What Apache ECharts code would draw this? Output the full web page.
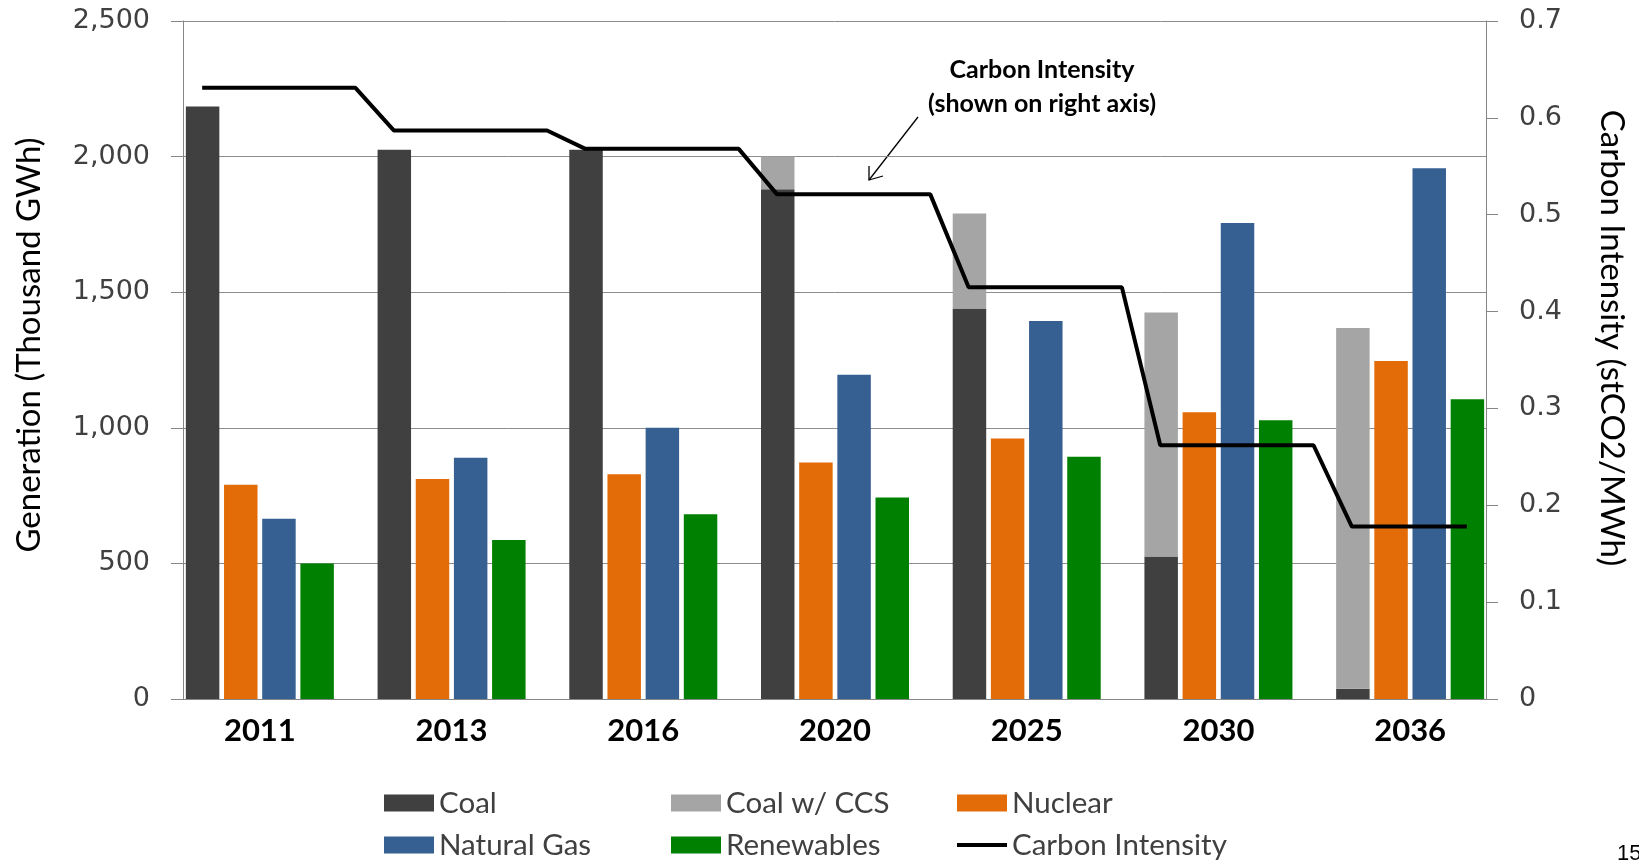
<!DOCTYPE html>
<html><head><meta charset="utf-8">
<script src="https://cdn.jsdelivr.net/npm/echarts@6/dist/echarts.min.js"></script>
<style>html,body{margin:0;padding:0;background:#fff}#c{width:1639px;height:861px}</style>
</head><body><div id="c"></div>
<script>
// ---- data ----
const years = ['2011', '2013', '2016', '2020', '2025', '2030', '2036'];
const coal = [2185, 2025, 2025, 1880, 1440, 525, 38];
const coalCCS = [0, 0, 0, 120, 350, 900, 1330];
const nuclear = [790, 811, 829, 872, 961, 1057, 1246];
const naturalGas = [665, 890, 1000, 1196, 1394, 1755, 1957];
const renewables = [500, 586, 681, 743, 893, 1028, 1105];
const carbonIntensity = [0.631, 0.587, 0.568, 0.521, 0.425, 0.262, 0.178];
// the intensity line sits on a secondary category axis with several points per year
const pointsPerYear = [5, 5, 5, 5, 5, 5, 4];
const leftTicks = [0, 500, 1000, 1500, 2000, 2500];
const rightTicks = [0, 0.1, 0.2, 0.3, 0.4, 0.5, 0.6, 0.7];

const ciCats = [], ciData = [];
years.forEach((y, i) => {
  for (let k = 0; k < pointsPerYear[i]; k++) { ciCats.push(y + '-' + k); ciData.push(carbonIntensity[i]); }
});

const C = { coal: '#404040', ccs: '#a5a5a5', nuc: '#e36c09', gas: '#376092', ren: '#008000' };
const axisGray = '#868686';
const chart = echarts.init(document.getElementById('c'), null, { renderer: 'canvas' });

// legend layout: 3 columns x 2 rows
const legendCells = [
  { name: 'Coal', col: 0, row: 0 }, { name: 'Coal w/ CCS', col: 1, row: 0 }, { name: 'Nuclear', col: 2, row: 0 },
  { name: 'Natural Gas', col: 0, row: 1 }, { name: 'Renewables', col: 1, row: 1 }, { name: 'Carbon Intensity', col: 2, row: 1 }
];
const colLeft = [384, 671, 957];
const rowTop = [788, 830];
const legends = legendCells.map(c => ({
  orient: 'horizontal', left: colLeft[c.col], top: rowTop[c.row], padding: 0,
  itemWidth: 50, itemHeight: c.name === 'Carbon Intensity' ? 4 : 17,
  textStyle: { fontFamily: 'Lato', fontSize: 29.5, color: '#404040', lineHeight: 30 },
  selectedMode: false,
  data: [{ name: c.name, icon: 'rect' }]
}));

chart.setOption({
  animation: false,
  backgroundColor: '#ffffff',
  grid: [
    { left: 183, right: 153, top: 21, bottom: 162 },
    { left: 164, right: 133, top: 21, bottom: 162 }
  ],
  legend: legends,
  xAxis: [
    { gridIndex: 0, type: 'category', data: ciCats, boundaryGap: true,
      axisLine: { show: true, lineStyle: { color: axisGray, width: 1 } },
      axisTick: { show: false }, axisLabel: { show: false }, splitLine: { show: false } },
    { gridIndex: 1, type: 'category', data: years,
      axisLine: { show: false }, axisTick: { show: false }, splitLine: { show: false },
      axisLabel: { fontFamily: 'Lato', fontWeight: 'bold', fontSize: 31, color: '#000', margin: 16 } }
  ],
  yAxis: [
    { gridIndex: 0, type: 'value', position: 'left', min: leftTicks[0], max: leftTicks[leftTicks.length - 1], interval: 500,
      name: 'Generation (Thousand GWh)', nameLocation: 'middle', nameGap: 137,
      nameTextStyle: { fontFamily: 'Lato', fontSize: 33, color: '#000', padding: [0, 0, 0, 30] },
      axisLine: { show: true, lineStyle: { color: axisGray, width: 1 } },
      axisTick: { show: true, length: 12, lineStyle: { color: axisGray } },
      axisLabel: { fontFamily: 'DejaVu Sans', fontSize: 27, color: '#404040', margin: 33,
        formatter: v => Number(v).toLocaleString('en-US') },
      splitLine: { show: true, lineStyle: { color: '#8c8c8c', width: 1 } } },
    { gridIndex: 0, type: 'value', position: 'right', min: rightTicks[0], max: rightTicks[rightTicks.length - 1], interval: 0.1,
      name: 'Carbon Intensity (stCO2/MWh)', nameLocation: 'middle', nameGap: 109, nameRotate: -90,
      nameTextStyle: { fontFamily: 'Lato', fontSize: 33, color: '#000', padding: [0, 44, 0, 0] },
      axisLine: { show: true, lineStyle: { color: axisGray, width: 1 } },
      axisTick: { show: true, length: 12, lineStyle: { color: axisGray } },
      axisLabel: { fontFamily: 'DejaVu Sans', fontSize: 27, color: '#404040', margin: 33,
        formatter: v => (v === 0 ? '0' : (+v).toFixed(1)) },
      splitLine: { show: false } },
    { gridIndex: 1, type: 'value', min: leftTicks[0], max: leftTicks[leftTicks.length - 1], show: false,
      splitLine: { show: false } }
  ],
  series: [
    { name: 'Coal', type: 'bar', xAxisIndex: 1, yAxisIndex: 2, stack: 'coal', data: coal,
      itemStyle: { color: C.coal }, barCategoryGap: '22.8%', barGap: '14%' },
    { name: 'Coal w/ CCS', type: 'bar', xAxisIndex: 1, yAxisIndex: 2, stack: 'coal', data: coalCCS,
      itemStyle: { color: C.ccs }, barCategoryGap: '22.8%', barGap: '14%' },
    { name: 'Nuclear', type: 'bar', xAxisIndex: 1, yAxisIndex: 2, data: nuclear,
      itemStyle: { color: C.nuc }, barCategoryGap: '22.8%', barGap: '14%' },
    { name: 'Natural Gas', type: 'bar', xAxisIndex: 1, yAxisIndex: 2, data: naturalGas,
      itemStyle: { color: C.gas }, barCategoryGap: '22.8%', barGap: '14%' },
    { name: 'Renewables', type: 'bar', xAxisIndex: 1, yAxisIndex: 2, data: renewables,
      itemStyle: { color: C.ren }, barCategoryGap: '22.8%', barGap: '14%' },
    { name: 'Carbon Intensity', type: 'line', xAxisIndex: 0, yAxisIndex: 1, data: ciData,
      symbol: 'none', z: 5, itemStyle: { color: '#000' }, lineStyle: { color: '#000', width: 4 } }
  ],
  graphic: [
    { type: 'text', x: 1042, y: 70, style: { text: 'Carbon Intensity', font: 'bold 25px Lato', fill: '#000', textAlign: 'center', textVerticalAlign: 'middle' } },
    { type: 'text', x: 1042, y: 104, style: { text: '(shown on right axis)', font: 'bold 25px Lato', fill: '#000', textAlign: 'center', textVerticalAlign: 'middle' } },
    { type: 'line', shape: { x1: 918, y1: 117, x2: 869, y2: 180 }, style: { stroke: '#000', lineWidth: 1.3 } },
    { type: 'polyline', shape: { points: [[869, 166], [869, 180], [883, 176]] }, style: { stroke: '#000', lineWidth: 1.3, fill: null } },
    { type: 'text', x: 1617, y: 843, style: { text: '15', font: '22px "Liberation Sans"', fill: '#000', textVerticalAlign: 'top' } }
  ]
});
</script></body></html>
